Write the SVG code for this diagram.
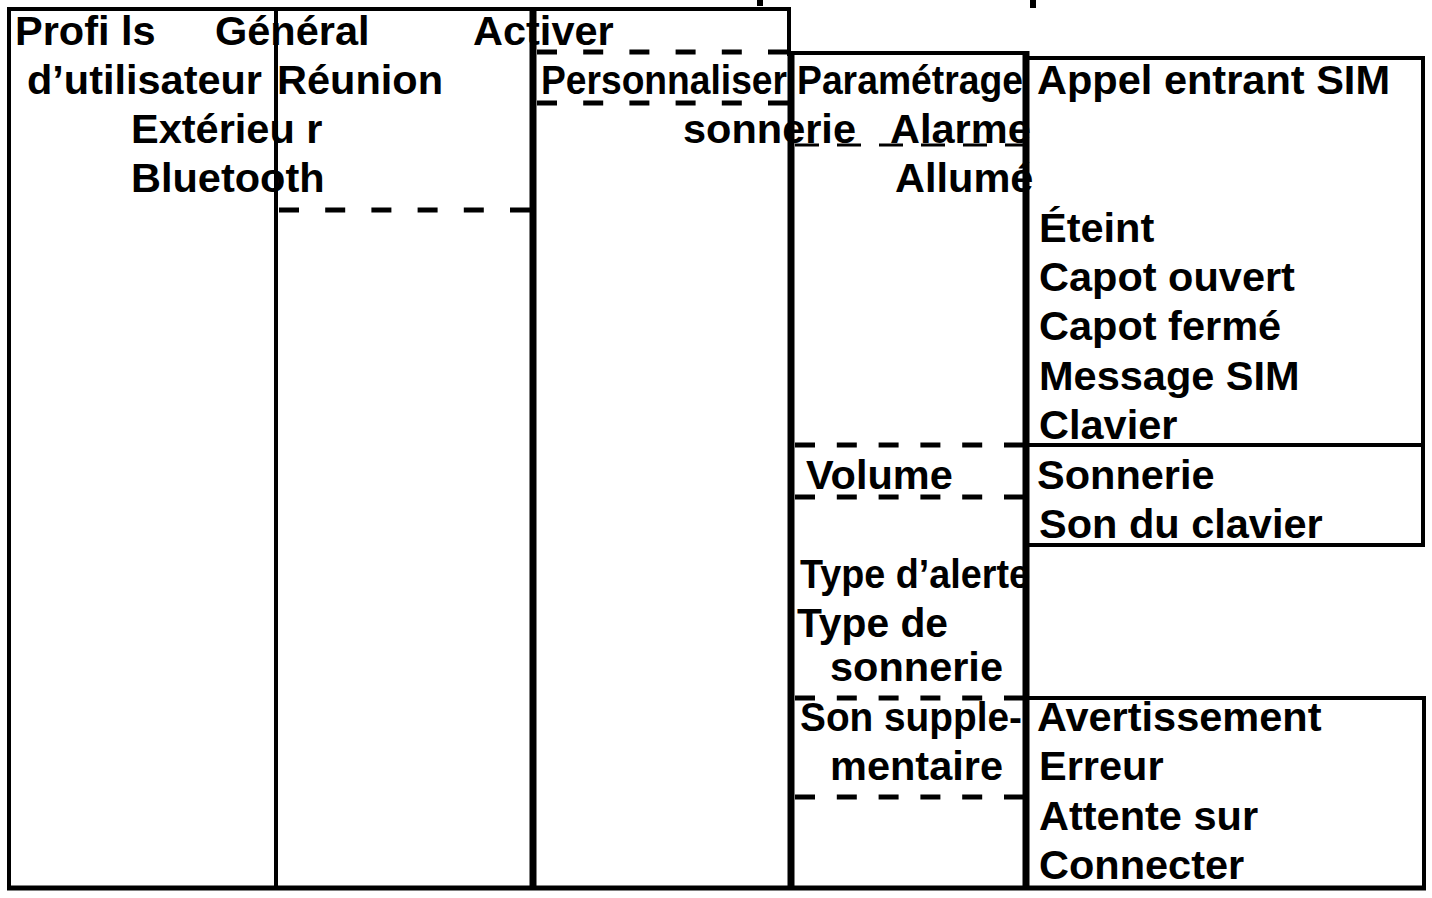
<svg xmlns="http://www.w3.org/2000/svg" width="1432" height="898" viewBox="0 0 1432 898">
<style>
text{font-family:"Liberation Sans",Arial,Helvetica,sans-serif;font-weight:bold;font-size:41.5px;fill:#000}
.s{stroke:#000;fill:none;stroke-width:4}
.t{stroke:#000;fill:none;stroke-width:7}
.d{stroke:#000;fill:none;stroke-width:5;stroke-dasharray:20 26.2}
.d4{stroke:#000;fill:none;stroke-width:5;stroke-dasharray:20 21.8}
.f{stroke:#000;fill:none;stroke-width:3;stroke-dasharray:24 18}
</style>
<rect width="1432" height="898" fill="#fff"/>
<g id="title-fragments">
<rect x="757" y="0" width="6" height="6" fill="#000"/>
<rect x="1030" y="0" width="6" height="8" fill="#000"/>
</g>
<g id="node-profils">
<text x="15" y="45">Profi ls</text>
<text x="27" y="94" textLength="235" lengthAdjust="spacingAndGlyphs">d’utilisateur</text>
</g>
<g id="node-modes">
<text x="215" y="45">Général</text>
<text x="277" y="94">Réunion</text>
<text x="131" y="143">Extérieu r</text>
<text x="131" y="192">Bluetooth</text>
</g>
<g id="node-actions">
<text x="473" y="45">Activer</text>
<text x="541" y="94" textLength="246" lengthAdjust="spacingAndGlyphs">Personnaliser</text>
</g>
<g id="node-parametrage">
<text x="797" y="94" textLength="226" lengthAdjust="spacingAndGlyphs">Paramétrage</text>
<text x="683" y="143">sonnerie</text>
<text x="890" y="143">Alarme</text>
<text x="895" y="192">Allumé</text>
<text x="806" y="489">Volume</text>
<text x="800" y="588" textLength="230" lengthAdjust="spacingAndGlyphs">Type d’alerte</text>
<text x="797" y="637" textLength="151" lengthAdjust="spacingAndGlyphs">Type de</text>
<text x="830" y="681">sonnerie</text>
<text x="800" y="731" textLength="222" lengthAdjust="spacingAndGlyphs">Son supple-</text>
<text x="830" y="780">mentaire</text>
</g>
<g id="node-alarme-list">
<text x="1037" y="94" textLength="353" lengthAdjust="spacingAndGlyphs">Appel entrant SIM</text>
<text x="1039" y="242">Éteint</text>
<text x="1039" y="291">Capot ouvert</text>
<text x="1039" y="340">Capot fermé</text>
<text x="1039" y="390">Message SIM</text>
<text x="1039" y="439">Clavier</text>
</g>
<g id="node-volume-list">
<text x="1037" y="489">Sonnerie</text>
<text x="1039" y="538">Son du clavier</text>
</g>
<g id="node-son-list">
<text x="1037" y="731">Avertissement</text>
<text x="1039" y="780">Erreur</text>
<text x="1039" y="830">Attente sur</text>
<text x="1039" y="879">Connecter</text>
</g>
<g id="connectors">
<line class="s" x1="7" y1="9" x2="791" y2="9"/>
<line class="s" x1="9" y1="7" x2="9" y2="890"/>
<line class="s" x1="276" y1="9" x2="276" y2="888"/>
<line class="t" x1="533" y1="7" x2="533" y2="888"/>
<line class="s" x1="789" y1="7" x2="789" y2="56"/>
<line class="t" x1="791" y1="51" x2="791" y2="888"/>
<line class="s" x1="789" y1="53" x2="1028" y2="53"/>
<line class="t" x1="1026" y1="51" x2="1026" y2="888"/>
<line class="s" x1="1026" y1="58" x2="1425" y2="58"/>
<line class="s" x1="1423" y1="56" x2="1423" y2="547"/>
<line class="s" x1="1026" y1="445" x2="1423" y2="445"/>
<line class="s" x1="1026" y1="545" x2="1425" y2="545"/>
<line class="s" x1="1026" y1="698" x2="1426" y2="698"/>
<line class="s" x1="1424" y1="696" x2="1424" y2="888"/>
<line x1="7" y1="888" x2="1426" y2="888" stroke="#000" stroke-width="5"/>
<line class="d" x1="279" y1="210" x2="531" y2="210"/>
<line class="d" x1="537" y1="52" x2="788" y2="52"/>
<line class="d" x1="537" y1="103" x2="788" y2="103"/>
<line class="f" x1="795" y1="145" x2="1023" y2="145"/>
<line class="d4" x1="795" y1="445" x2="1024" y2="445"/>
<line class="d4" x1="795" y1="497" x2="1024" y2="497"/>
<line class="d4" x1="795" y1="698" x2="1024" y2="698"/>
<line class="d4" x1="795" y1="797" x2="1024" y2="797"/>
</g>
</svg>
